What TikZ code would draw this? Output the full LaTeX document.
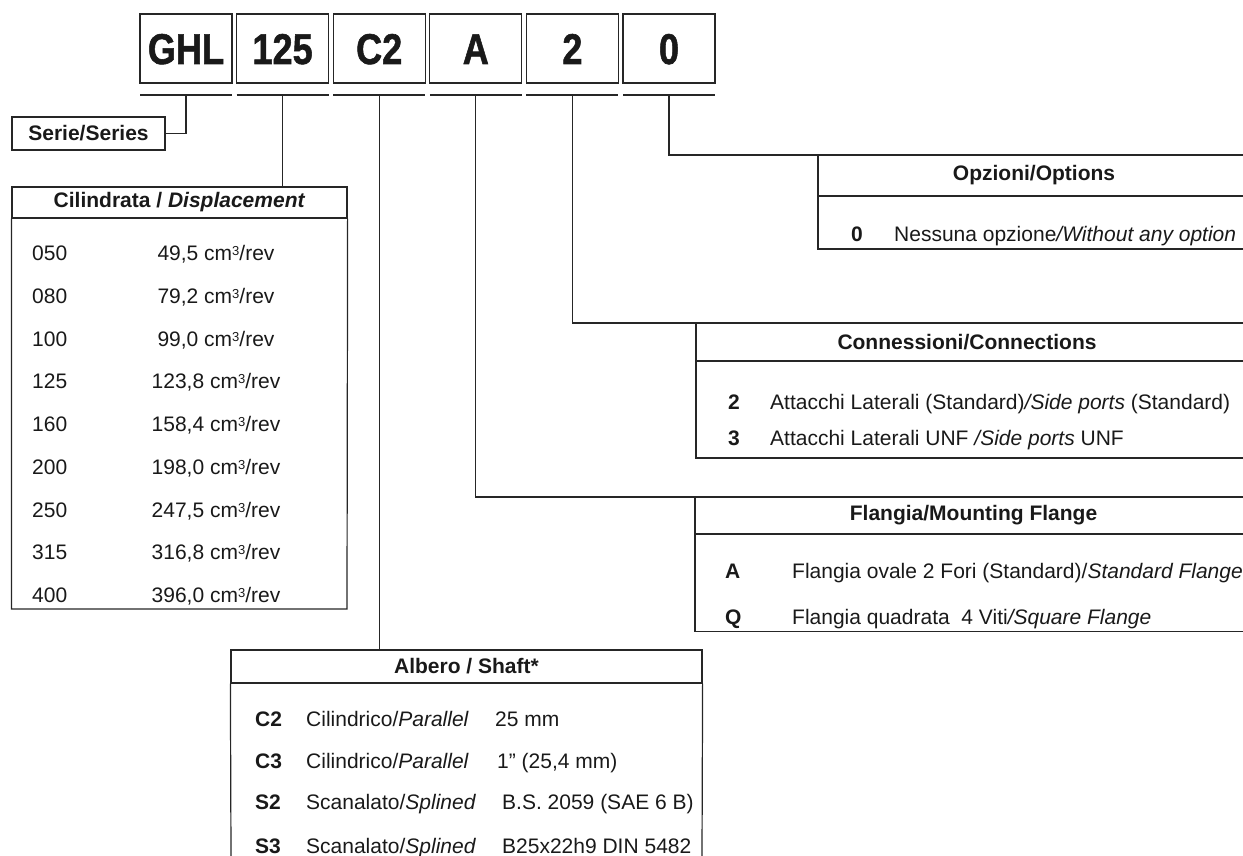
\documentclass[tikz,border=0pt]{standalone}
\usepackage{fontspec}
\setmainfont{Liberation Sans}
\newfontfamily\codefont[FakeBold=1.4]{Liberation Sans Bold}
\usetikzlibrary{calc}
\usetikzlibrary{positioning}

\tikzset{
  tline/.style={line width=1.2pt, draw=black!85},
  codebox/.style={tline, minimum width=92pt, minimum height=69pt, inner sep=0pt, text height=31pt, text depth=0pt, font=\fontsize{43}{43}\codefont},
  tbox/.style={tline, inner sep=0pt, font=\fontsize{21}{25}\selectfont\bfseries},
  headtxt/.style={inner sep=0pt, font=\fontsize{21}{25}\selectfont\bfseries},
  rowtxt/.style={inner sep=0pt, anchor=base west, font=\fontsize{21}{25}\selectfont},
  codetxt/.style={rowtxt, font=\fontsize{21}{25}\selectfont\bfseries},
}

\begin{document}
\begin{tikzpicture}[x=1pt,y=-1pt, every node/.append style={text=black!90}]
    \useasboundingbox (0,0) rectangle (1243,856);

    % code boxes with their underlines
    \foreach \nm/\txt [count=\i from 0] in {ghl/GHL, sz/125, sh/C2, fl/A, cn/2, op/0}{
        \node[codebox, draw] (\nm) at (186+96.6*\i,48.5) {\scalebox{0.84}[1]{\txt}};
        \coordinate (\nm-u) at ($(\nm.south)+(0,11.5)$);
        \draw[tline] ($(\nm-u)+(-46,0)$) -- ($(\nm-u)+(46,0)$);
    }

    % Serie
    \node[tbox, draw, minimum width=153pt, minimum height=33pt] (serie) at (88.5,133.5) {Serie/Series};
    \draw[tline] (ghl-u) |- (serie.east);

    % Cilindrata
    \node[tbox, draw, minimum width=335pt, minimum height=31pt] (disp) at (179.5,202.5) {Cilindrata / \textit{Displacement}};
    \draw[tline] (disp.south west) |- (347,609) -- (disp.south east);
    \draw[tline] (sz-u) -- (sz-u |- disp.north);
    \foreach \c/\v [count=\i from 0] in {050/{49,5}, 080/{79,2}, 100/{99,0}, 125/{123,8}, 160/{158,4}, 200/{198,0}, 250/{247,5}, 315/{316,8}, 400/{396,0}}{
        \node[rowtxt] (dc\i) at (32,260.5+42.75*\i) {\c};
        \node[rowtxt, anchor=base] (dv\i) at (216,260.5+42.75*\i) {\v\ cm\raisebox{5pt}{\fontsize{13}{13}\selectfont 3}/rev};
    }

    % Opzioni
    \coordinate (opt) at (818,155);
    \draw[tline] (op-u) |- (1243,155);
    \draw[tline] (opt) |- (1243,249);
    \draw[tline] (818,196) -- (1243,196);
    \node[headtxt] (opthead) at (1034,175.5) {Opzioni/Options};
    \node[codetxt] (op0) at (851,241) {0};
    \node[rowtxt] (op0t) at (894,241) {Nessuna opzione\textit{/Without any option}};

    % Connessioni
    \coordinate (con) at (696,323);
    \draw[tline] (cn-u) |- (1243,323);
    \draw[tline] (con) |- (1243,458);
    \draw[tline] (696,361) -- (1243,361);
    \node[headtxt] (conhead) at (967,342) {Connessioni/Connections};
    \node[codetxt] (cn2) at (728,409) {2};
    \node[rowtxt] (cn2t) at (770,409) {Attacchi Laterali (Standard)\textit{/Side ports} (Standard)};
    \node[codetxt] (cn3) at (728,445) {3};
    \node[rowtxt] (cn3t) at (770,445) {Attacchi Laterali UNF \textit{/Side ports} UNF};

    % Flangia
    \coordinate (fla) at (695,497);
    \draw[tline] (fl-u) |- (1243,497);
    \draw[tline] (fla) |- (1243,631.5);
    \draw[tline] (695,534) -- (1243,534);
    \node[headtxt] (flahead) at (973.5,515.5) {Flangia/Mounting Flange};
    \node[codetxt] (flA) at (725,578.5) {A};
    \node[rowtxt] (flAt) at (792,578.5) {Flangia ovale 2 Fori (Standard)/\textit{Standard Flange}};
    \node[codetxt] (flQ) at (725,624.5) {Q};
    \node[rowtxt] (flQt) at (792,624.5) {Flangia quadrata\ \ 4 Viti\textit{/Square Flange}};

    % Albero
    \node[tbox, draw, minimum width=471pt, minimum height=33pt] (shaft) at (466.5,666.5) {Albero / Shaft*};
    \draw[tline] (shaft.south west) -- (231,856);
    \draw[tline] (shaft.south east) -- (702,856);
    \draw[tline] (sh-u) -- (sh-u |- shaft.north);
    \node[codetxt] (shC2) at (255,726.5) {C2};
    \node[rowtxt] at (306,726.5) {Cilindrico/\textit{Parallel}};
    \node[rowtxt] at (495,726.5) {25 mm};
    \node[codetxt] (shC3) at (255,768) {C3};
    \node[rowtxt] at (306,768) {Cilindrico/\textit{Parallel}};
    \node[rowtxt] at (497,768) {1\char"22\ (25,4 mm)};
    \node[codetxt] (shS2) at (255,809.5) {S2};
    \node[rowtxt] at (306,809.5) {Scanalato/\textit{Splined}};
    \node[rowtxt] at (502,809.5) {B.S. 2059 (SAE 6 B)};
    \node[codetxt] (shS3) at (255,853) {S3};
    \node[rowtxt] at (306,853) {Scanalato/\textit{Splined}};
    \node[rowtxt] at (502,853) {B25x22h9 DIN 5482};
\end{tikzpicture}
\end{document}
